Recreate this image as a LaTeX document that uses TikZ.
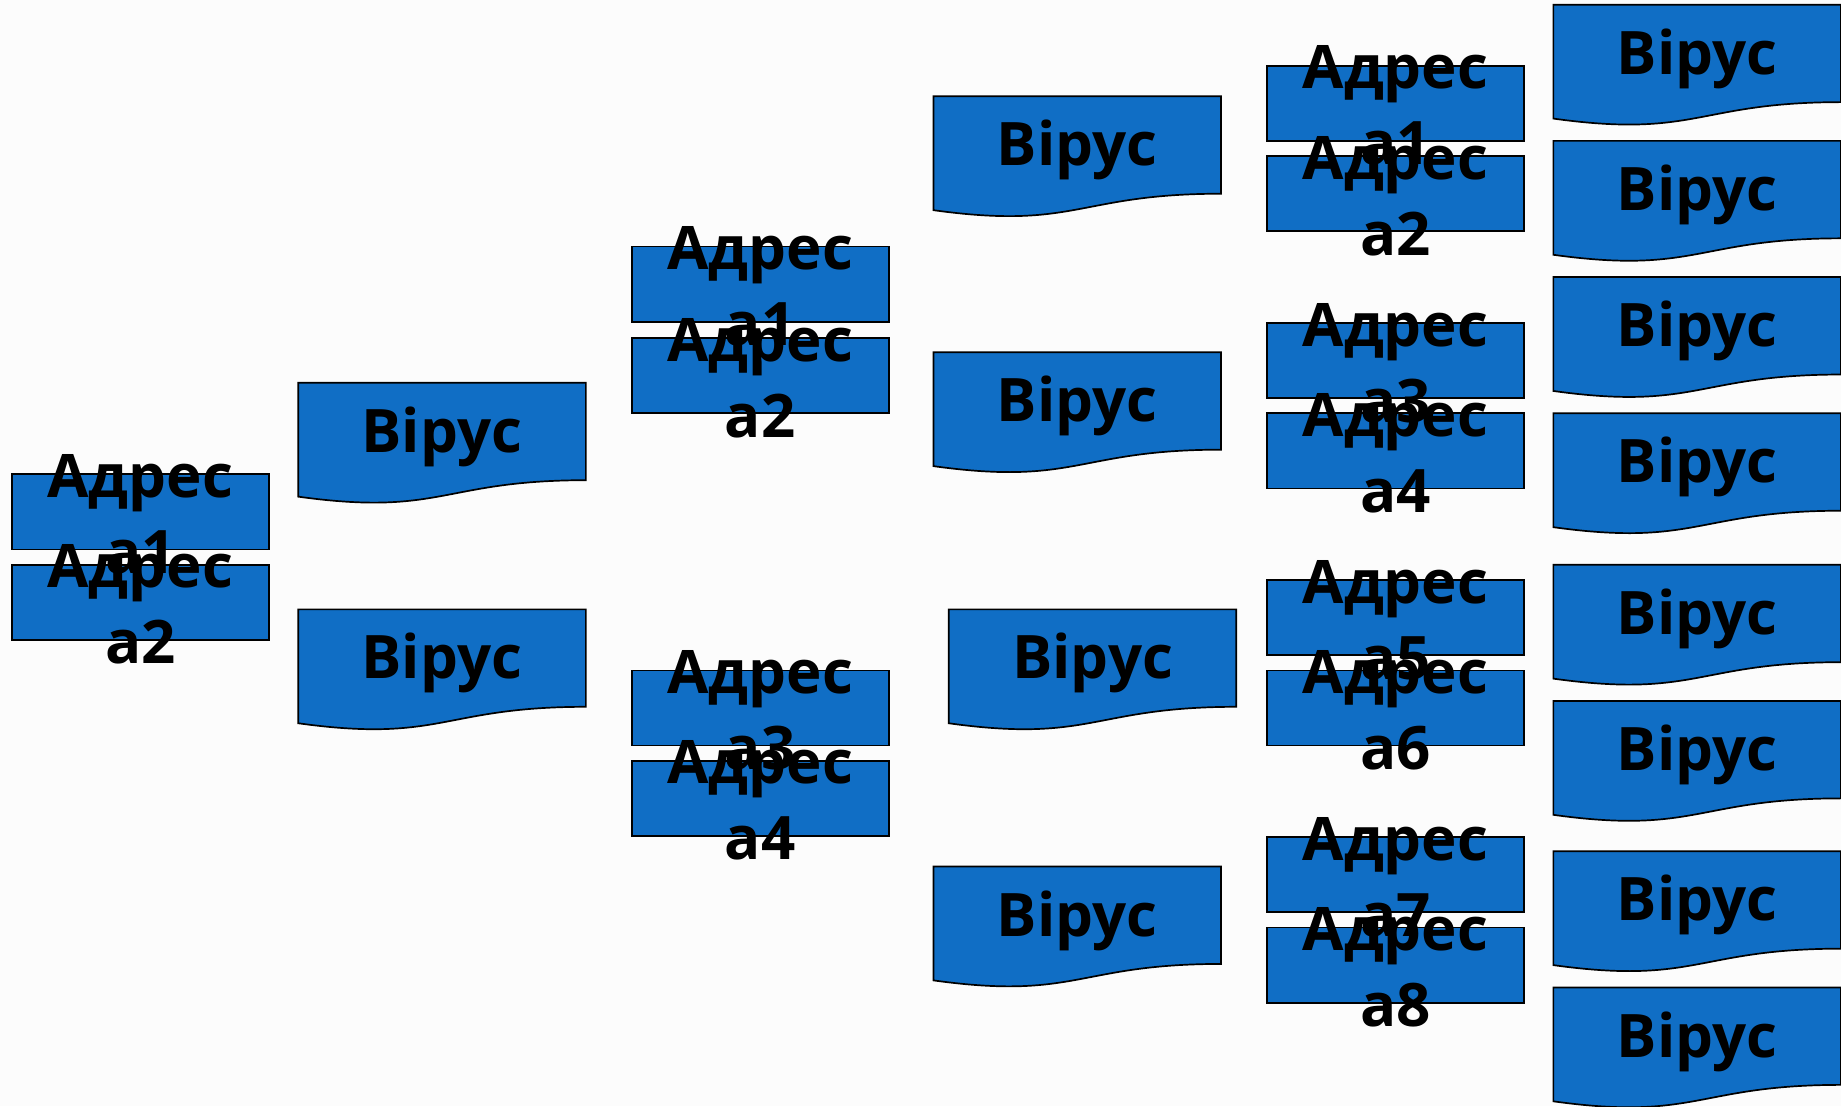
\documentclass[tikz,border=0pt]{standalone}
\usepackage{fontspec}
\setmainfont{Open Sans}[BoldFont={Open Sans Bold}]
\definecolor{boxblue}{HTML}{106EC5}
\definecolor{paper}{HTML}{FCFCFC}
\tikzset{
  shapeline/.style={draw=black,fill=boxblue,line width=1.7pt},
  viruslabel/.style={font=\fontsize{60}{60}\selectfont\bfseries,text=black,inner sep=0pt,anchor=center},
  addrlabel/.style={font=\fontsize{60}{76}\selectfont\bfseries,text=black,inner sep=0pt,anchor=center,align=center},
}
\newcommand{\viruslist}{v1/254/326,v2/254/519,v3/795/82,v4/795/300,v5/808/519,v6/795/738,v7/1323/4,v8/1323/120,v9/1323/236,v10/1323/352,v11/1323/481,v12/1323/597,v13/1323/725,v14/1323/841}
\newcommand{\addrlist}{aa1/10/404/1,aa2/10/481/2,ab1/538/210/1,ab2/538/288/2,ab3/538/571/3,ab4/538/648/4,ac1/1079/56/1,ac2/1079/133/2,ac3/1079/275/3,ac4/1079/352/4,ac5/1079/494/5,ac6/1079/571/6,ac7/1079/713/7,ac8/1079/790/8}
\begin{document}
\begin{tikzpicture}[x=1.17411pt,y=-1.17411pt]
\useasboundingbox (0,0) rectangle (1568,942);
\fill[paper] (0,0) rectangle (1568,942);
\begin{scope}
\clip (0,0) rectangle (1568,942);
\foreach \n/\x/\y in \viruslist {
  \draw[shapeline] (\x,\y) -- (\x+245,\y) -- (\x+245,\y+83)
    .. controls (\x+122.5,\y+83) and (\x+122.5,\y+114) .. (\x,\y+97) -- cycle;
}
\foreach \n/\x/\y/\k in \addrlist {
  \draw[shapeline] (\x,\y) rectangle (\x+219,\y+64);
}
\foreach \n/\x/\y in \viruslist {
  \node[viruslabel] (\n) at (\x+122.5,\y+46) {Вірус};
}
\foreach \n/\x/\y/\k in \addrlist {
  \node[addrlabel] (\n) at (\x+109.5,\y+34) {Адрес\\a\k};
}
\end{scope}
\end{tikzpicture}
\end{document}
